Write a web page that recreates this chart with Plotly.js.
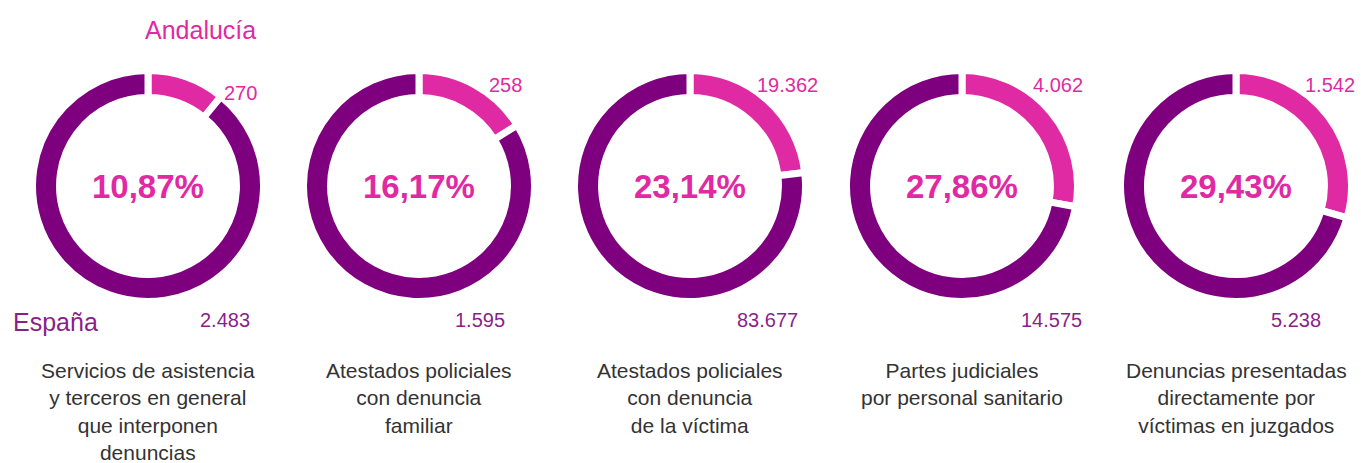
<!DOCTYPE html>
<html>
<head>
<meta charset="utf-8">
<script src="https://cdn.plot.ly/plotly-3.0.1.min.js"></script>
<style>html,body{margin:0;padding:0;background:#fff;}#chart{width:1361px;height:463px;}</style>
</head>
<body>
<div id="chart"></div>
<script>
// ---- data ----
const categories = [
  "Servicios de asistencia<br>y terceros en general<br>que interponen<br>denuncias",
  "Atestados policiales<br>con denuncia<br>familiar",
  "Atestados policiales<br>con denuncia<br>de la víctima",
  "Partes judiciales<br>por personal sanitario",
  "Denuncias presentadas<br>directamente por<br>víctimas en juzgados"
];
const andalucia = [270, 258, 19362, 4062, 1542];
const espana = [2483, 1595, 83677, 14575, 5238];
const andaluciaLabels = ["270", "258", "19.362", "4.062", "1.542"];
const espanaLabels = ["2.483", "1.595", "83.677", "14.575", "5.238"];
const pctLabels = ["10,87%", "16,17%", "23,14%", "27,86%", "29,43%"];

// ---- layout geometry (pixels) ----
const W = 1361, H = 463;
const centersX = [148, 419, 690, 962, 1236];
const centerY = 186;
const R = 115.5;
const pinkLabelX = [240, 505, 788, 1058, 1330];
const pinkLabelY = [93, 85, 85, 85, 85];
const purpleLabelX = [225, 480, 767, 1051, 1296];
const purpleLabelY = 320;

const PINK = "#DF2AA3";
const PURPLE = "#7F007F";

const traces = [];
const annotations = [];
for (let i = 0; i < categories.length; i++) {
  const cx = centersX[i];
  traces.push({
    type: "pie",
    values: [andalucia[i], espana[i] - andalucia[i]],
    labels: ["Andalucía", "Resto de España"],
    marker: {colors: [PINK, PURPLE], line: {color: "#ffffff", width: 7}},
    hole: 0.766,
    sort: false,
    direction: "clockwise",
    rotation: 0,
    textinfo: "none",
    hoverinfo: "none",
    showlegend: false,
    domain: {
      x: [(cx - R) / W, (cx + R) / W],
      y: [(H - centerY - R) / H, (H - centerY + R) / H]
    }
  });
  annotations.push({
    text: "<b>" + pctLabels[i] + "</b>",
    x: cx / W, y: (H - centerY) / H, xref: "paper", yref: "paper",
    xanchor: "center", yanchor: "middle", showarrow: false,
    font: {family: "Liberation Sans, Arial, sans-serif", size: 33, color: PINK}
  });
  annotations.push({
    text: andaluciaLabels[i],
    x: pinkLabelX[i] / W, y: (H - pinkLabelY[i]) / H, xref: "paper", yref: "paper",
    xanchor: "center", yanchor: "middle", showarrow: false,
    font: {family: "Liberation Sans, Arial, sans-serif", size: 20, color: PINK}
  });
  annotations.push({
    text: espanaLabels[i],
    x: purpleLabelX[i] / W, y: (H - purpleLabelY) / H, xref: "paper", yref: "paper",
    xanchor: "center", yanchor: "middle", showarrow: false,
    font: {family: "Liberation Sans, Arial, sans-serif", size: 20, color: "#8A1F8A"}
  });
  annotations.push({
    text: categories[i],
    x: cx / W, y: (H - 357) / H, xref: "paper", yref: "paper",
    xanchor: "center", yanchor: "top", showarrow: false, align: "center",
    font: {family: "Liberation Sans, Arial, sans-serif", size: 21, color: "#333333"}
  });
}
annotations.push({
  text: "Andalucía", x: 200 / W, y: (H - 30) / H, xref: "paper", yref: "paper",
  xanchor: "center", yanchor: "middle", showarrow: false,
  font: {family: "Liberation Sans, Arial, sans-serif", size: 25, color: PINK}
});
annotations.push({
  text: "España", x: 11 / W, y: (H - 322) / H, xref: "paper", yref: "paper",
  xanchor: "left", yanchor: "middle", showarrow: false,
  font: {family: "Liberation Sans, Arial, sans-serif", size: 25, color: "#8A1F8A"}
});

const layout = {
  width: W, height: H,
  margin: {l: 0, r: 0, t: 0, b: 0},
  paper_bgcolor: "#ffffff",
  plot_bgcolor: "#ffffff",
  annotations: annotations
};
Plotly.newPlot("chart", traces, layout, {displayModeBar: false, staticPlot: true});
</script>
</body>
</html>
